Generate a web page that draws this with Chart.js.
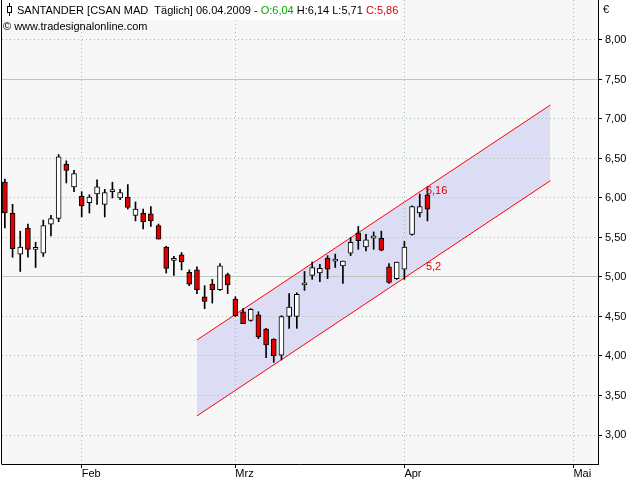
<!DOCTYPE html>
<html><head><meta charset="utf-8">
<script src="https://cdn.jsdelivr.net/npm/chart.js@4/dist/chart.umd.min.js"></script>
<style>html,body{margin:0;padding:0;background:#fff;overflow:hidden}canvas{display:block}</style>
</head><body>
<canvas id="c" width="640" height="480"></canvas>
<script>
// ---- data (trading days) ----
const dates = [
  "19.01","20.01","21.01","22.01","23.01","26.01","27.01","28.01","29.01","30.01",
  "02.02","03.02","04.02","05.02","06.02","09.02","10.02","11.02","12.02","13.02",
  "16.02","17.02","18.02","19.02","20.02","23.02","24.02","25.02","26.02","27.02",
  "02.03","03.03","04.03","05.03","06.03","09.03","10.03","11.03","12.03","13.03",
  "16.03","17.03","18.03","19.03","20.03","23.03","24.03","25.03","26.03","27.03",
  "30.03","31.03","01.04","02.04","03.04","06.04"
];
const opens  = [6.20,5.81,5.29,5.62,5.35,5.30,5.67,5.74,6.43,6.14, 6.02,5.94,6.05,5.92,6.08,6.00,6.01,5.78,5.81,5.80, 5.65,5.38,5.21,5.28,5.06,5.09,4.75,4.91,4.84,5.03, 4.72,4.56,4.45,4.52,4.34,4.21,4.01,4.50,4.50,4.90, 5.02,5.05,5.24,5.20,5.14,5.30,5.56,5.38,5.49,5.49, 5.13,4.98,5.10,5.54,5.81,6.04];
const highs  = [6.24,5.92,5.58,5.67,5.44,5.72,5.78,6.55,6.47,6.35, 6.08,6.04,6.23,6.11,6.20,6.11,6.17,5.95,5.86,5.89, 5.67,5.39,5.26,5.31,5.09,5.13,4.89,4.97,5.17,5.05, 4.75,4.60,4.60,4.56,4.35,4.22,4.51,4.79,4.80,5.07, 5.19,5.16,5.27,5.29,5.20,5.50,5.64,5.54,5.57,5.58, 5.17,5.19,5.45,5.90,6.05,6.14];
const lows   = [5.62,5.25,5.07,5.25,5.12,5.26,5.52,5.70,6.19,6.08, 5.76,5.81,5.92,5.76,6.00,5.98,5.86,5.71,5.61,5.64, 5.48,5.05,5.02,5.09,4.89,4.79,4.60,4.67,4.83,4.79, 4.50,4.41,4.44,4.22,3.98,3.92,3.95,4.35,4.35,4.83, 4.97,4.94,4.98,5.12,4.92,5.27,5.35,5.33,5.35,5.33, 4.92,4.97,4.97,5.53,5.76,5.71];
const closes = [5.81,5.36,5.38,5.35,5.35,5.65,5.74,6.52,6.35,6.31, 5.90,6.01,6.14,6.07,6.08,6.07,5.88,5.86,5.70,5.71, 5.48,5.11,5.21,5.19,4.91,4.84,4.69,4.84,5.14,4.90, 4.51,4.41,4.59,4.24,4.14,4.00,4.50,4.62,4.78,4.92, 5.12,5.11,5.10,5.20,5.20,5.44,5.46,5.47,5.52,5.34, 4.93,5.19,5.38,5.89,5.89,5.86];

// trend channel (trading-day index, price)
const channelIndex = [25, 71];
const channelUpper = [4.203, 7.177];
const channelLower = [3.241, 6.219];
const channelLabelIndex = 55;
const channelLabelValues = [6.16, 5.2];
const channelLabelTexts = ["6,16", "5,2"];

// axes
const monthTickIndex = [10, 30, 52, 74];
const monthLabels = ["Feb", "Mrz", "Apr", "Mai"];
const yTicks = [3.0, 3.5, 4.0, 4.5, 5.0, 5.5, 6.0, 6.5, 7.0, 7.5, 8.0];
const yRefLines = [5.0, 7.5];
const X_MIN = -0.3735, X_MAX = 77.2;
const Y_MIN = 2.633, Y_MAX = 8.506;

// ---- styling ----
const RED = '#e00000';
const GRID = '#a8bcae';
const REFGRID = '#b9c9bc';
const FONT = '"Liberation Sans", Arial, sans-serif';
Chart.defaults.font.family = FONT;
Chart.defaults.font.size = 11;
Chart.defaults.color = '#000';

const fmt = v => v.toFixed(2).replace('.', ',');
const last = dates.length - 1;

const wickData = dates.map((d, i) => ({x: i, y: [lows[i], highs[i]]}));
const bodyData = dates.map((d, i) => ({x: i, y: [opens[i], closes[i]]}));
const bodyColors = dates.map((d, i) => closes[i] < opens[i] ? RED : '#ffffff');

const titleParts = [
  ["SANTANDER [CSAN MAD  T\u00e4glich] 06.04.2009 - ", '#000'],
  ["O:" + fmt(opens[last]), '#00a800'],
  [" H:" + fmt(highs[last]) + " L:" + fmt(lows[last]) + " ", '#000'],
  ["C:" + fmt(closes[last]), RED]
];

const noPad = s => { s.paddingTop = 0; s.paddingBottom = 0; s.paddingLeft = 0; s.paddingRight = 0; };

const decor = {
  id: 'decor',
  afterLayout(chart) {
    const a = chart.chartArea;
    chart.canvas.style.background =
      `linear-gradient(#f7f7f7,#f7f7f7) ${a.left}px ${a.top}px / ${a.right - a.left}px ${a.bottom - a.top}px no-repeat, #ffffff`;
  },
  afterDraw(chart) {
    const {ctx, chartArea: a, scales} = chart;
    ctx.save();
    // left frame line
    ctx.strokeStyle = '#000'; ctx.lineWidth = 1;
    ctx.beginPath(); ctx.moveTo(a.left - 0.5, a.top); ctx.lineTo(a.left - 0.5, a.bottom + 0.5); ctx.stroke();

    // channel value labels
    ctx.font = '11px ' + FONT; ctx.fillStyle = RED; ctx.textBaseline = 'top'; ctx.textAlign = 'left';
    const lx = scales.x.getPixelForValue(channelLabelIndex) - 1.5;
    channelLabelValues.forEach((v, k) => {
      ctx.fillText(channelLabelTexts[k], lx, scales.y.getPixelForValue(v));
    });

    // title
    ctx.textBaseline = 'middle';
    let w = 0;
    titleParts.forEach(p => { w += ctx.measureText(p[0]).width; });
    ctx.fillStyle = '#fff';
    ctx.fillRect(a.left, a.top, 17 + w + 2 - a.left, 20);
    // candle icon
    ctx.strokeStyle = '#000';
    ctx.beginPath(); ctx.moveTo(9.5, 3); ctx.lineTo(9.5, 16); ctx.stroke();
    ctx.fillStyle = '#fff'; ctx.fillRect(7, 6, 5, 7);
    ctx.strokeRect(7.5, 6.5, 4, 6);
    let tx = 17;
    titleParts.forEach(p => { ctx.fillStyle = p[1]; ctx.fillText(p[0], tx, 11); tx += ctx.measureText(p[0]).width; });
    ctx.fillStyle = '#000';
    ctx.fillText("\u00a9 www.tradesignalonline.com", 3, 27);
    // currency
    ctx.fillText("\u20ac", 603, 10);
    ctx.restore();
  }
};

new Chart(document.getElementById('c'), {
  type: 'bar',
  data: {
    datasets: [
      {type: 'bar', data: wickData, backgroundColor: '#000', barThickness: 1, grouped: false, order: 2},
      {type: 'bar', data: bodyData, backgroundColor: bodyColors, borderColor: '#000', borderWidth: 1,
       borderSkipped: false, barThickness: 5, minBarLength: 2, grouped: false, order: 1},
      {type: 'line', data: channelIndex.map((x, i) => ({x, y: channelUpper[i]})),
       borderColor: '#ff0000', borderWidth: 1, pointRadius: 0, fill: false, tension: 0, order: 3},
      {type: 'line', data: channelIndex.map((x, i) => ({x, y: channelLower[i]})),
       borderColor: '#ff0000', borderWidth: 1, pointRadius: 0, fill: '-1', backgroundColor: '#dcdcf4', tension: 0, order: 3}
    ]
  },
  options: {
    responsive: false,
    animation: false,
    devicePixelRatio: 1,
    layout: {padding: {left: 2, right: 0, top: 0, bottom: 0}},
    plugins: {legend: {display: false}, tooltip: {enabled: false}, filler: {drawTime: 'beforeDraw'}},
    scales: {
      x: {
        type: 'linear', position: 'bottom', min: X_MIN, max: X_MAX, offset: false,
        afterBuildTicks: s => { s.ticks = monthTickIndex.map(v => ({value: v})); },
        afterFit: s => { s.height = 16; noPad(s); },
        ticks: {autoSkip: false, maxRotation: 0, align: 'start', padding: -1, color: '#000',
                callback: (v, i) => monthLabels[i]},
        grid: {offset: false, color: GRID, lineWidth: 1, drawTicks: true, tickLength: 4, tickColor: '#000', tickWidth: 1},
        border: {display: true, color: '#000', width: 1, dash: [1, 3]}
      },
      y: {
        type: 'linear', position: 'right', min: Y_MIN, max: Y_MAX,
        afterBuildTicks: s => { s.ticks = yTicks.map(v => ({value: v})); },
        afterFit: s => { s.width = 42; noPad(s); },
        ticks: {padding: 3, color: '#000', callback: v => fmt(v)},
        grid: {color: GRID, lineWidth: 1, tickLength: 4, tickColor: '#000', tickWidth: 1},
        border: {display: true, color: '#000', width: 1, dash: [1, 3]}
      },
      y2: {
        type: 'linear', position: 'right', min: Y_MIN, max: Y_MAX,
        afterBuildTicks: s => { s.ticks = yRefLines.map(v => ({value: v})); },
        afterFit: s => { s.width = 0; noPad(s); },
        ticks: {display: false},
        grid: {color: REFGRID, lineWidth: 1, drawTicks: false},
        border: {display: false}
      }
    }
  },
  plugins: [decor]
});
</script>
</body></html>
